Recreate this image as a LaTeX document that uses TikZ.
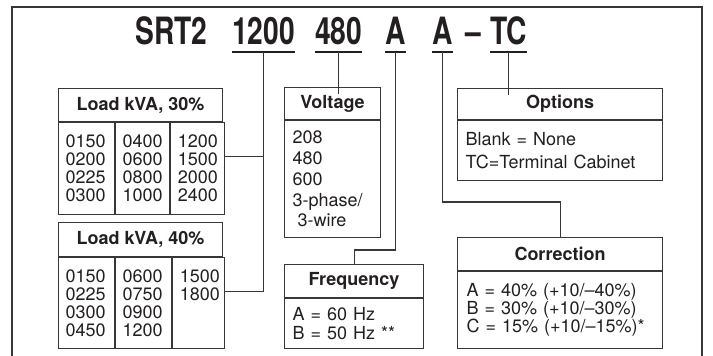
\documentclass[tikz,border=0pt]{standalone}
\usepackage{fontspec}
\setmainfont{TeX Gyre Heros}
\newfontfamily\codefont[FakeStretch=0.75]{TeX Gyre Heros}
\definecolor{inkgray}{RGB}{35, 31, 32}
\definecolor{linegray}{RGB}{55, 55, 55}
\usetikzlibrary{positioning, calc}

\begin{document}
\begin{tikzpicture}[
  x=1pt, y=-1pt,
  every node/.style={text=inkgray},
  hdr/.style={draw=linegray, line width=1.1pt, anchor=north west, inner sep=0pt, font=\fontsize{18}{18}\selectfont\bfseries},
  cell/.style={draw=linegray, line width=1.1pt, anchor=north west, align=left, inner xsep=7pt, inner ysep=0pt, text width=#1, font=\fontsize{18}{18}\selectfont},
  body/.style={draw=linegray, line width=1.1pt, anchor=north west, align=left, inner xsep=8pt, inner ysep=0pt, text width=#1},
  code/.style={anchor=base west, inner sep=0pt, font=\codefont\fontsize{37.6}{40}\selectfont\bfseries},
  uline/.style={draw=inkgray, line width=2pt},
  conn/.style={draw=linegray, line width=1.1pt}
]
  \useasboundingbox (0,0) rectangle (713,356);
  \draw[line width=1.1pt, linegray] (12,356) |- (702,7) -- (702,356);

  % catalog number
  \node[code] (tSRT) at (135,45) {SRT2};
  \node[code] (t1200) at (232,45) {1200};
  \node[code] (t480) at (315,45) {480};
  \node[code] (tA1) at (385,45) {A};
  \node[code] (tA2) at (432,45) {A};
  \node[code] (tdash) at (465,45) {–};
  \node[code] (tTC) at (490,45) {TC};
  \foreach \n in {t1200, t480, tA1, tA2, tTC}
    \draw[uline] ([yshift=-7pt]\n.base west) -- ([yshift=-7pt]\n.base east);

  % load kVA tables
  \node[hdr, minimum width=164pt, minimum height=33pt] (l30) at (58,88) {Load kVA, 30\%};
  \node[cell=42pt, minimum height=92pt] (l30a) at (l30.south west) {0150\\0200\\0225\\0300};
  \node[cell=40pt, minimum height=92pt] (l30b) at (l30a.north east) {0400\\0600\\0800\\1000};
  \node[cell=40pt, minimum height=92pt] (l30c) at (l30b.north east) {1200\\1500\\2000\\2400};

  \node[hdr, minimum width=164pt, minimum height=34pt] (l40) at (58,222) {Load kVA, 40\%};
  \node[cell=42pt, minimum height=91pt] (l40a) at (l40.south west) {0150\\0225\\0300\\0450};
  \node[cell=42pt, minimum height=91pt] (l40b) at (l40a.north east) {0600\\0750\\0900\\1200};
  \node[cell=38pt, minimum height=91pt] (l40c) at (l40b.north east) {1500\\1800\\\phantom{0}\\\phantom{0}};

  % voltage and frequency
  \node[hdr, minimum width=96pt, minimum height=32pt] (volt) at (284,87) {Voltage};
  \node[body=80pt, minimum height=117pt, font=\fontsize{18}{20.7}\selectfont] (voltb) at (volt.south west)
    {208\\480\\600\\3-phase/\\\hspace*{0.28em}3-wire};

  \node[hdr, minimum width=139pt, minimum height=33pt] (freq) at (284,264) {Frequency};
  \node[body=123pt, minimum height=50pt, font=\fontsize{18}{19}\selectfont] (freqb) at (freq.south west)
    {A = 60 Hz\\B = 50 Hz **};

  % options and correction
  \node[hdr, minimum width=205pt, minimum height=31pt] (opts) at (457,88) {Options};
  \node[body=189pt, minimum height=60pt, font=\fontsize{18}{23.5}\selectfont] (optsb) at (opts.south west)
    {Blank = None\\TC=Terminal Cabinet};

  \node[hdr, minimum width=205pt, minimum height=33pt] (corr) at (457,237) {Correction};
  \node[body=187pt, minimum height=77pt, inner xsep=9pt, font=\fontsize{18}{16.5}\selectfont] (corrb) at (corr.south west)
    {A = 40\% (+10/–40\%)\\B = 30\% (+10/–30\%)\\C = 15\% (+10/–15\%)*};

  % connectors
  \draw[conn] ([yshift=-7pt]t1200.base) |- ([yshift=12pt]l40c.east);
  \draw[conn] ([yshift=12pt]l30c.east) -| ([yshift=-7pt]t1200.base);
  \draw[conn] ([yshift=-7pt]t480.base) -- ([yshift=-7pt]t480.base |- volt.north);
  \draw[conn] ([yshift=-7pt]tA1.base) |- ([yshift=14pt]freq.north) -- (freq.north);
  \draw[conn] ([yshift=-7pt]tA2.base) |- ([yshift=35pt]corr.north) -- (corr.north);
  \draw[conn] ([yshift=-7pt]tTC.base) -- ([yshift=-7pt]tTC.base |- opts.north);
\end{tikzpicture}
\end{document}
